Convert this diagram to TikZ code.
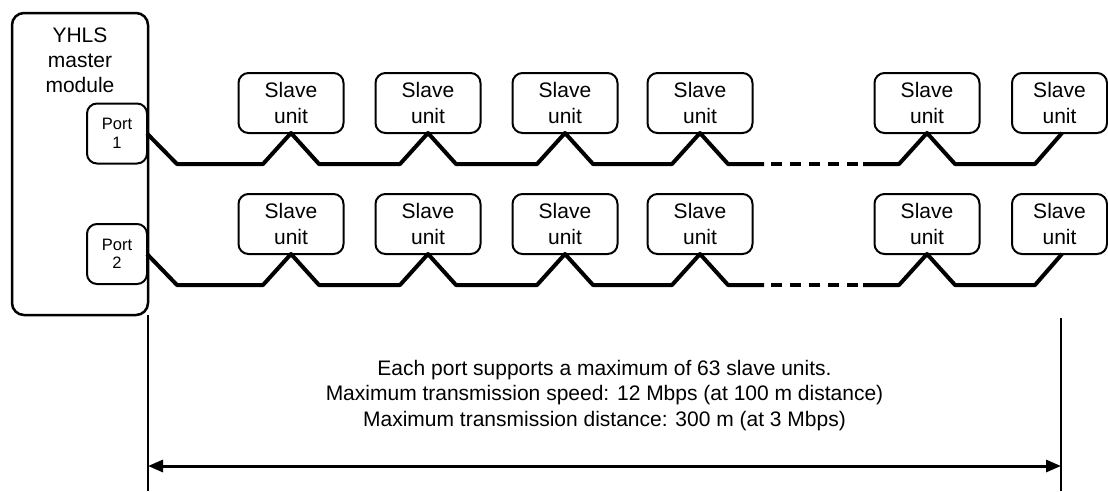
\documentclass[tikz,border=0pt]{standalone}
\usepackage{fontspec}
\setmainfont{Liberation Sans}
\usetikzlibrary{arrows.meta,calc}
\begin{document}
\begin{tikzpicture}[x=1pt,y=-1pt,
  every node/.style={inner sep=0pt, outer sep=0pt},
  master/.style={draw, line width=2.5pt, rounded corners=12pt, minimum width=136pt, minimum height=302pt},
  mtext/.style={align=center, font=\fontsize{21}{25}\selectfont},
  portbox/.style={draw, line width=2pt, rounded corners=10pt, minimum width=60pt, minimum height=60pt, align=center, font=\fontsize{16.5}{18.5}\selectfont},
  slavebox/.style={draw, line width=2pt, rounded corners=10pt, minimum width=105pt, minimum height=60pt, align=center, font=\fontsize{21}{26}\selectfont, fill=white},
  bus/.style={line width=4pt, line join=round},
  busdash/.style={line width=4pt, dash pattern=on 11pt off 8pt},
  guide/.style={line width=2pt},
  dimline/.style={line width=3pt, {Triangle[length=15pt,width=12pt]}-{Triangle[length=15pt,width=12pt]}},
  infotext/.style={align=center, font=\fontsize{21}{25.5}\selectfont}
  ]
\useasboundingbox (0,0) rectangle (1108,491);

% master module
\node[master] (master) at (80,164) {};
\node[mtext, anchor=north] (mlabel) at (80,28) {YHLS\\master\\module};
\node[portbox] (p1) at (117,133.5) {Port\\1};
\node[portbox] (p2) at (117,254) {Port\\2};

% slave units row 1
\node[slavebox] (a1) at (291,103) {Slave\\unit};
\node[slavebox] (a2) at (428,103) {Slave\\unit};
\node[slavebox] (a3) at (565,103) {Slave\\unit};
\node[slavebox] (a4) at (700,103) {Slave\\unit};
\node[slavebox] (a5) at (927,103) {Slave\\unit};
\node[slavebox, minimum width=95pt] (a6) at (1059.5,103) {Slave\\unit};

% slave units row 2
\node[slavebox] (b1) at (291,224) {Slave\\unit};
\node[slavebox] (b2) at (428,224) {Slave\\unit};
\node[slavebox] (b3) at (565,224) {Slave\\unit};
\node[slavebox] (b4) at (700,224) {Slave\\unit};
\node[slavebox] (b5) at (927,224) {Slave\\unit};
\node[slavebox, minimum width=95pt] (b6) at (1059.5,224) {Slave\\unit};

% bus row 1
\draw[bus] (p1.east) -- ++(30,30.5)
  -- ($(a1.south)+(-28,31)$) -- (a1.south) -- ++(28,31)
  -- ($(a2.south)+(-28,31)$) -- (a2.south) -- ++(28,31)
  -- ($(a3.south)+(-28,31)$) -- (a3.south) -- ++(28,31)
  -- ($(a4.south)+(-28,31)$) -- (a4.south) -- ++(28,31)
  -- ++(36,0) coordinate (d1s);
\coordinate (d1e) at ($(a5.south)+(-64,31)$);
\draw[busdash] ($(d1s)+(7,0)$) -- ($(d1e)+(-5,0)$);
\draw[bus] (d1e) -- ($(a5.south)+(-28,31)$) -- (a5.south) -- ++(28,31)
  -- ($(a6.south)+(-24.5,31)$) -- ($(a6.south)+(2.5,0)$);

% bus row 2
\draw[bus] (p2.east) -- ++(30,31)
  -- ($(b1.south)+(-28,31)$) -- (b1.south) -- ++(28,31)
  -- ($(b2.south)+(-28,31)$) -- (b2.south) -- ++(28,31)
  -- ($(b3.south)+(-28,31)$) -- (b3.south) -- ++(28,31)
  -- ($(b4.south)+(-28,31)$) -- (b4.south) -- ++(28,31)
  -- ++(36,0) coordinate (d2s);
\coordinate (d2e) at ($(b5.south)+(-64,31)$);
\draw[busdash] ($(d2s)+(7,0)$) -- ($(d2e)+(-5,0)$);
\draw[bus] (d2e) -- ($(b5.south)+(-28,31)$) -- (b5.south) -- ++(28,31)
  -- ($(b6.south)+(-24.5,31)$) -- ($(b6.south)+(2.5,0)$);

% extent guides and dimension arrow
\coordinate (gl) at (148,491);
\coordinate (gr1) at (1061,318);
\coordinate (gr2) at (1061,491);
\draw[guide] (master.south east) -- (gl);
\draw[guide] (gr1) -- (gr2);
\coordinate (al) at (148,466);
\coordinate (ar) at (1061,466);
\draw[dimline] (al) -- (ar);

\node[infotext, anchor=north] (info) at (604.5,360)
  {Each port supports a maximum of 63 slave units.\\
   Maximum transmission speed: 12 Mbps (at 100 m distance)\\
   Maximum transmission distance: 300 m (at 3 Mbps)};
\end{tikzpicture}
\end{document}
